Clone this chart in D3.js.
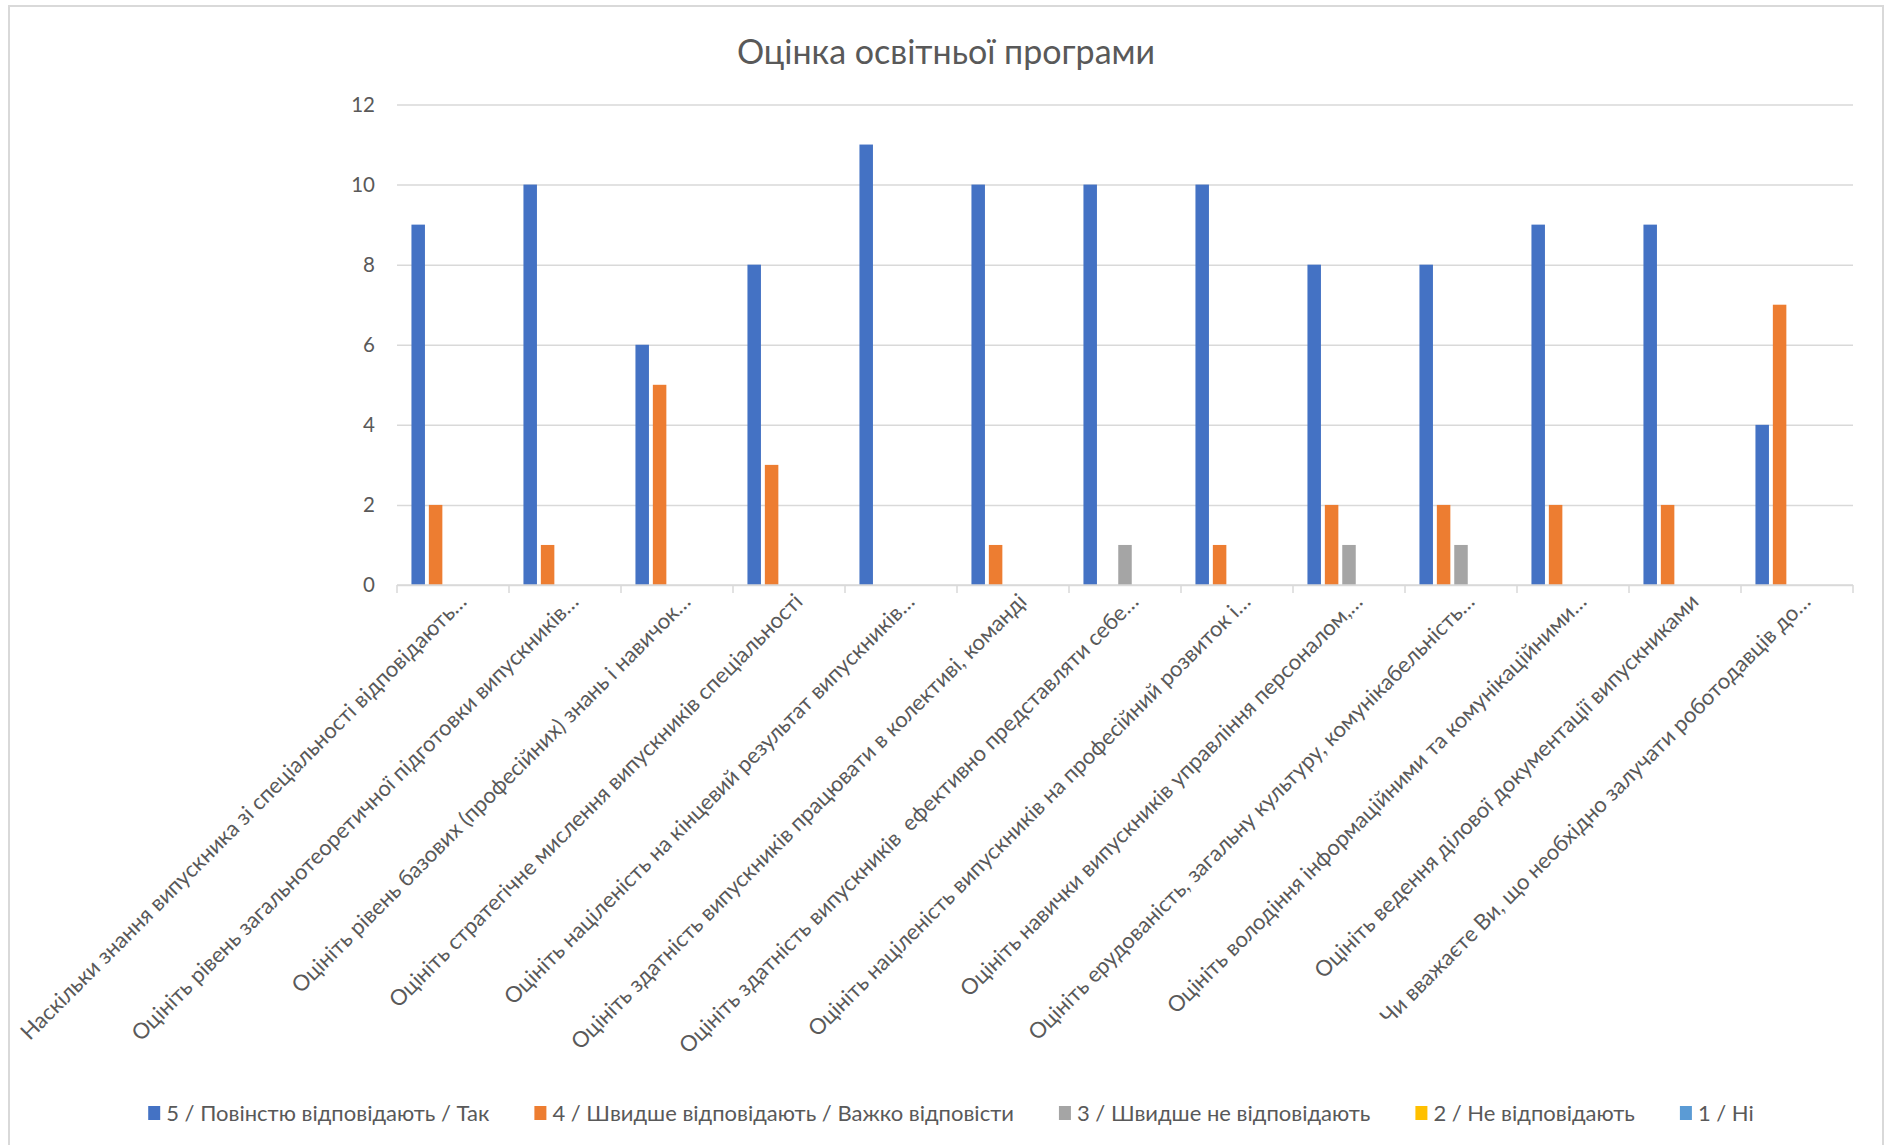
<!DOCTYPE html>
<html>
<head>
<meta charset="utf-8">
<script src="https://cdn.jsdelivr.net/npm/d3@7/dist/d3.min.js"></script>
<style>
  html, body { margin: 0; padding: 0; background: #fff; }
  svg { display: block; font-family: Lato, "Open Sans", sans-serif; }
</style>
</head>
<body>
<svg id="chart" width="1886" height="1145"></svg>
<script>
const title = "Оцінка освітньої програми";

const categories = [
  "Наскільки знання випускника зі спеціальності відповідають…",
  "Оцініть рівень загальнотеоретичної підготовки випускників…",
  "Оцініть рівень базових (професійних) знань і навичок…",
  "Оцініть стратегічне мислення випускників спеціальності",
  "Оцініть націленість на кінцевий результат випускників…",
  "Оцініть здатність випускників працювати в колективі, команді",
  "Оцініть здатність випускників  ефективно представляти себе…",
  "Оцініть націленість випускників на професійний розвиток і…",
  "Оцініть навички випускників управління персоналом,…",
  "Оцініть ерудованість, загальну культуру, комунікабельність…",
  "Оцініть володіння інформаційними та комунікаційними…",
  "Оцініть ведення ділової документації випускниками",
  "Чи вважаєте Ви, що необхідно залучати роботодавців до…"
];

const seriesNames = [
  "5 / Повінстю відповідають / Так",
  "4 / Швидше відповідають / Важко відповісти",
  "3 / Швидше не відповідають",
  "2 / Не відповідають",
  "1 / Ні"
];

const s5 = [9, 10, 6, 8, 11, 10, 10, 10, 8, 8, 9, 9, 4];
const s4 = [2, 1, 5, 3, 0, 1, 0, 1, 2, 2, 2, 2, 7];
const s3 = [0, 0, 0, 0, 0, 0, 1, 0, 1, 1, 0, 0, 0];
const s2 = [0, 0, 0, 0, 0, 0, 0, 0, 0, 0, 0, 0, 0];
const s1 = [0, 0, 0, 0, 0, 0, 0, 0, 0, 0, 0, 0, 0];

const yTicks = [0, 2, 4, 6, 8, 10, 12];

const seriesValues = [s5, s4, s3, s2, s1];
const colors = ["#4472C4", "#ED7D31", "#A5A5A5", "#FFC000", "#5B9BD5"];

const plot = { left: 397, right: 1853, top: 104.5, bottom: 585 };
const textColor = "#595959";
const gridColor = "#D9D9D9";

const svg = d3.select("#chart");

// chart border
svg.append("rect")
  .attr("x", 9).attr("y", 6)
  .attr("width", 1874).attr("height", 1150)
  .attr("fill", "#fff")
  .attr("stroke", gridColor).attr("stroke-width", 2);

// title
svg.append("text")
  .attr("x", 946).attr("y", 64)
  .attr("text-anchor", "middle")
  .attr("font-size", 34)
  .attr("fill", textColor)
  .text(title);

const x0 = d3.scaleBand()
  .domain(d3.range(categories.length))
  .range([plot.left, plot.right])
  .paddingInner(0.258)
  .paddingOuter(0.129);

const x1 = d3.scaleBand()
  .domain(d3.range(seriesNames.length))
  .range([0, x0.bandwidth()])
  .paddingInner(0.224);

const y = d3.scaleLinear().domain([0, 12]).range([plot.bottom, plot.top]);

// gridlines + y labels
const yAxis = d3.axisLeft(y)
  .tickValues(yTicks)
  .tickSize(-(plot.right - plot.left))
  .tickPadding(22)
  .tickFormat(d3.format("d"));

const gy = svg.append("g")
  .attr("transform", `translate(${plot.left},0)`)
  .call(yAxis);
gy.select(".domain").remove();
gy.selectAll(".tick line")
  .attr("stroke", gridColor).attr("stroke-width", 1.5);
gy.selectAll(".tick text")
  .attr("font-size", 20.5)
  .attr("fill", textColor)
  .attr("font-family", "Lato, sans-serif");

// bars
const groups = svg.append("g").selectAll("g")
  .data(categories.map((c, i) => i))
  .join("g")
  .attr("transform", i => `translate(${x0(i)},0)`);

groups.selectAll("rect")
  .data(i => seriesValues.map((vals, s) => ({ s, v: vals[i] })))
  .join("rect")
  .attr("x", d => x1(d.s))
  .attr("width", x1.bandwidth())
  .attr("y", d => y(d.v))
  .attr("height", d => y(0) - y(d.v))
  .attr("fill", d => colors[d.s]);

// x axis with category boundary ticks
const xAxisG = svg.append("g");
xAxisG.append("line")
  .attr("x1", plot.left).attr("x2", plot.right)
  .attr("y1", plot.bottom).attr("y2", plot.bottom)
  .attr("stroke", gridColor).attr("stroke-width", 1.5);

const step = x0.step();
const boundaries = d3.range(categories.length + 1).map(i => plot.left + i * step);
xAxisG.selectAll("line.tk")
  .data(boundaries)
  .join("line")
  .attr("class", "tk")
  .attr("x1", d => d).attr("x2", d => d)
  .attr("y1", plot.bottom).attr("y2", plot.bottom + 8)
  .attr("stroke", gridColor).attr("stroke-width", 1.5);

// rotated category labels
xAxisG.selectAll("text.cat")
  .data(categories)
  .join("text")
  .attr("class", "cat")
  .attr("transform", (d, i) => `translate(${x0(i) + x0.bandwidth() / 2 + 15},603) rotate(-45)`)
  .attr("text-anchor", "end")
  .attr("font-size", 22)
  .attr("fill", textColor)
  .style("white-space", "pre")
  .text(d => d);

// legend
const legend = svg.append("g");
const legendFont = 22;
const items = legend.selectAll("g")
  .data(seriesNames)
  .join("g");
items.append("rect")
  .attr("width", 12).attr("height", 14)
  .attr("y", -15)
  .attr("fill", (d, i) => colors[i]);
items.append("text")
  .attr("x", 18)
  .attr("font-size", legendFont)
  .attr("fill", textColor)
  .text(d => d);

let cursor = 0;
const positions = [];
items.each(function() {
  const w = d3.select(this).select("text").node().getComputedTextLength();
  positions.push(cursor);
  cursor += 18 + w + 45;
});
const totalW = cursor - 45;
const startX = 951 - totalW / 2;
items.attr("transform", (d, i) => `translate(${startX + positions[i]},1121)`);
</script>
</body>
</html>
